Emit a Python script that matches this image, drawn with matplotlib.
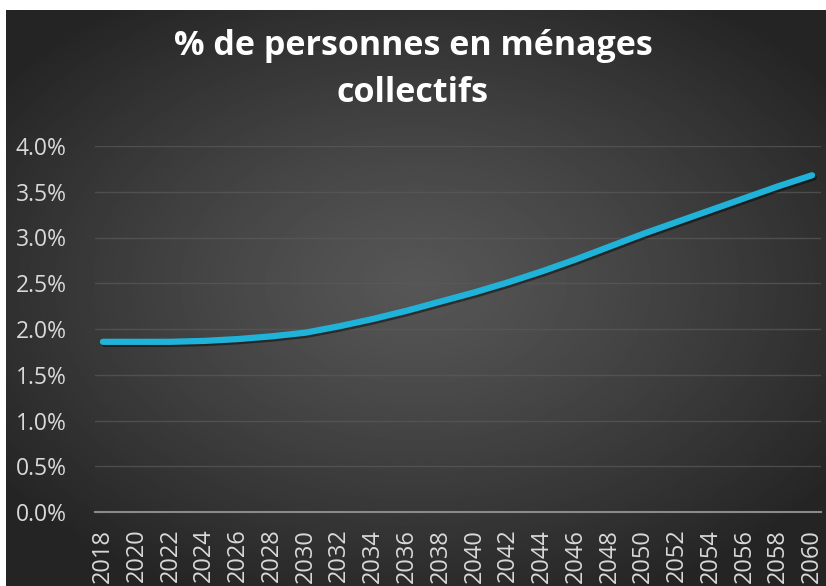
import numpy as np
import matplotlib
matplotlib.use("Agg")
from matplotlib import pyplot as plt
from matplotlib import patheffects as pe
from matplotlib.ticker import FuncFormatter

# data (share of people in collective households)
years = [2018, 2020, 2022, 2024, 2026, 2028, 2030, 2032, 2034, 2036, 2038,
         2040, 2042, 2044, 2046, 2048, 2050, 2052, 2054, 2056, 2058, 2060]
share = [1.86, 1.86, 1.86, 1.87, 1.89, 1.92, 1.96, 2.03, 2.11, 2.20, 2.30,
         2.40, 2.51, 2.63, 2.76, 2.90, 3.04, 3.17, 3.30, 3.43, 3.56, 3.68]
yticks = [0.0, 0.5, 1.0, 1.5, 2.0, 2.5, 3.0, 3.5, 4.0]
title_lines = ["% de personnes en ménages", "collectifs"]

plt.rcParams['font.family'] = ['Open Sans', 'DejaVu Sans']

W, H = 826, 586
fig = plt.figure(figsize=(W / 100, H / 100), dpi=100, facecolor='white')

# dark radial gradient background (leaves thin white strip top and left)
bx0, by1 = 6 / W, (H - 10) / H
bg = fig.add_axes([bx0, 0, 1 - bx0, by1])
bg.axis('off')
gx, gy = np.meshgrid(np.linspace(-1, 1, 400), np.linspace(-1, 1, 300))
r = np.sqrt((gx / 1.0) ** 2 + ((gy + 0.05) / 0.95) ** 2)
r = np.clip(r, 0, 1.25) / 1.25
light, dark = 0x56 / 255, 0x25 / 255
shade = light - (light - dark) * r ** 1.2
bg.imshow(shade, cmap='gray', vmin=0, vmax=1, aspect='auto',
          extent=[0, 1, 0, 1], interpolation='bilinear')

# plot area
ax = fig.add_axes([94.5 / W, 74 / H, (820.5 - 94.5) / W, (512 - 146) / H])
ax.set_facecolor('none')
ax.plot(years, share, color='#20b3d9', linewidth=4.5, solid_capstyle='round',
        solid_joinstyle='round', zorder=3,
        path_effects=[pe.SimpleLineShadow(offset=(1.2, -1.5), shadow_color='black', alpha=0.45),
                      pe.Normal()])

ax.set_xlim(2017.5, 2060.5)
ax.set_ylim(0, 4.0)
ax.set_yticks(yticks)
ax.yaxis.set_major_formatter(FuncFormatter(lambda v, p: f"{v:.1f}%"))
ax.set_xticks(years)
ax.set_xticklabels([str(y) for y in years], rotation=90, va='top')

for s in ['top', 'right', 'left']:
    ax.spines[s].set_visible(False)
ax.spines['bottom'].set_color('#8a8a8a')
ax.spines['bottom'].set_linewidth(1.5)
ax.grid(axis='y', color='#5a5a5a', linewidth=1.0, alpha=0.7)
ax.set_axisbelow(True)
ax.tick_params(axis='y', length=0, colors='#d9d9d9', labelsize=16.5, pad=20)
ax.tick_params(axis='x', length=0, colors='#d9d9d9', labelsize=17, pad=12)

fig.text(0.5, 1 - 46 / H, title_lines[0], ha='center', va='center',
         color='white', fontsize=24.5, fontweight='bold')
fig.text(0.5, 1 - 93 / H, title_lines[1], ha='center', va='center',
         color='white', fontsize=24.5, fontweight='bold')

plt.savefig('out.png', dpi=100, facecolor=fig.get_facecolor())
